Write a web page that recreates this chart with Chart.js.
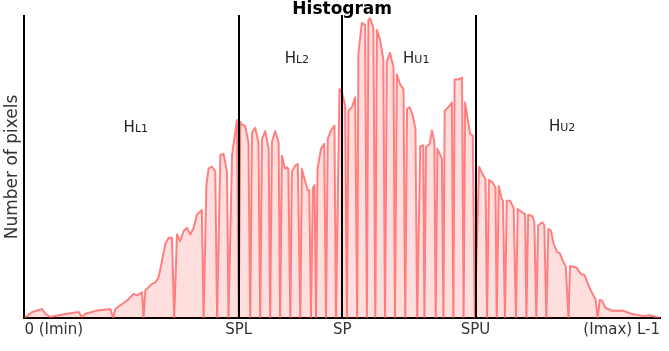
<!DOCTYPE html>
<html>
<head>
<meta charset="utf-8">
<script src="https://cdn.jsdelivr.net/npm/chart.js@4/dist/chart.umd.min.js"></script>
<style>
html,body{margin:0;padding:0;background:#fff;}
#wrap{width:669px;height:351px;}
</style>
</head>
<body>
<div id="wrap"><canvas id="c" width="669" height="351"></canvas></div>
<script>
// Grey levels (0 .. L-1) and histogram counts (relative, 0..100)
const levels = [
0,0.4,3.1,7.1,8.4,10.4,13.8,17.1,21.8,23.1,24.5,29.2,34.5,35.6,36.5,38.5,41.2,43.8,45.2,47.2,47.8,48.5,
51.2,52.5,53.8,55.2,56.5,57.9,59.2,60.1,61.2,62.5,63.9,65.2,66.6,67.9,69.2,71.2,71.9,73.0,73.9,75.3,76.6,77.3,
78.6,79.9,81.3,81.9,83.3,84.6,85.3,86.0,86.6,87.3,88.6,89.9,90.6,91.3,92.6,93.9,94.6,95.3,96.6,98.0,98.6,
99.3,100.6,102.0,102.6,103.3,104.6,105.3,105.9,106.7,107.3,108.7,109.7,110.7,111.3,112.7,113.7,114.3,115.0,
115.7,116.4,117.0,117.6,119.0,120.3,121.0,121.7,123.0,124.4,125.0,126.4,127.4,128.7,129.4,130.0,131.4,132.7,
133.5,134.0,135.4,136.7,137.4,138.0,138.7,140.0,140.8,141.4,142.7,144.0,144.7,145.4,146.7,148.1,148.7,149.4,
150.7,152.1,152.8,153.5,154.6,155.8,156.9,157.6,158.8,160.0,160.5,161.1,162.6,163.5,164.5,165.0,165.7,167.5,
168.1,168.6,170.6,171.5,172.1,172.6,174.2,175.6,176.2,176.8,178.8,179.9,180.7,182.4,183.7,185.0,185.6,186.4,
187.8,189.0,189.5,190.3,191.5,192.0,192.8,193.5,194.9,196.3,197.2,197.9,199.6,200.9,201.4,202.1,203.9,204.6,
205.4,206.1,207.8,208.6,209.4,210.2,211.3,212.3,213.7,214.9,216.0,217.2,218.3,218.9,220.2,221.5,223.4,224.7,
226.0,227.6,229.1,230.0,230.8,231.8,233.1,235.9,239.9,244.0,248.2,251.0,253.5,255
];
const pixelCounts = [
0,0.3,2.0,3.0,1.4,0.3,0.9,1.4,2.0,0.3,1.4,2.5,3.0,0,3.0,4.2,5.8,8.0,7.5,8.5,0,9.1,
11.3,11.8,13.4,18.9,24.5,26.6,26.6,0,27.7,25.5,28.8,29.9,27.7,29.9,34.2,35.8,0,44.0,49.5,50.1,48.4,0,
53.9,54.4,48.4,0,53.9,61.6,65.6,0,65.0,64.1,63.5,58.2,0,61.4,63.0,58.2,0,59.2,61.9,55.9,0,
58.2,61.9,58.2,0,53.7,49.4,49.9,49.4,0,48.4,50.5,51.0,0,49.4,45.1,42.3,42.3,0,
43.0,44.0,0,49.5,56.1,57.7,0,59.4,62.1,63.7,0,75.8,74.7,70.3,0,68.6,69.8,73.1,
0,87.8,97.7,97.1,0,98.7,99.3,96.0,0,95.4,92.1,85.6,0,85.0,87.8,82.9,0,80.7,
77.4,75.8,0,69.2,69.8,67.0,62.7,0,56.8,57.2,0,56.6,57.7,62.1,58.3,0,56.1,52.8,
0,68.6,70.3,71.4,0,79.0,79.0,79.6,0,71.4,61.0,60.4,0,50.1,47.9,45.9,0,45.8,
44.9,43.3,0,43.7,39.4,38.8,0,38.8,38.8,36.4,0,36.1,35.1,34.3,0,34.2,33.7,31.7,
0,30.6,31.7,30.8,0,29.5,28.9,24.6,21.9,21.3,19.0,17.0,0,17.2,17.0,16.7,14.5,14.3,
11.5,8.5,6.3,0,6.0,5.7,3.4,2.4,2.5,1.3,0.7,0.9,0.3,0
];
// Axis ticks
const tickValues = [0, 86, 127.5, 181, 255];
const tickLabels = ['0 (Imin)', 'SPL', 'SP', 'SPU', '(Imax) L-1'];
// Threshold lines
const markerValues = [86, 127.5, 181];
// Region labels: main letter, subscript, level, count
const regionMain = ['H', 'H', 'H', 'H'];
const regionSub = ['L1', 'L2', 'U1', 'U2'];
const regionLevel = [44.7, 109.3, 157.2, 215.7];
const regionCount = [61.7, 84.3, 84.3, 62.0];

const FONT = "'DejaVu Sans', sans-serif";

const markerPlugin = {
  id: 'markers',
  afterDatasetsDraw(chart) {
    const ctx = chart.ctx, xs = chart.scales.x, ys = chart.scales.y, a = chart.chartArea;
    ctx.save();
    ctx.strokeStyle = '#000';
    ctx.lineWidth = 2;
    markerValues.forEach(v => {
      const x = Math.round(xs.getPixelForValue(v));
      ctx.beginPath();
      ctx.moveTo(x, a.top - 1);
      ctx.lineTo(x, a.bottom);
      ctx.stroke();
    });
    ctx.fillStyle = '#222';
    ctx.textBaseline = 'alphabetic';
    regionMain.forEach((m, i) => {
      const cx = xs.getPixelForValue(regionLevel[i]);
      const by = ys.getPixelForValue(regionCount[i]);
      ctx.font = '15px ' + FONT;
      const w1 = ctx.measureText(m).width;
      ctx.font = '11px ' + FONT;
      const w2 = ctx.measureText(regionSub[i]).width;
      const x0 = cx - (w1 + w2) / 2;
      ctx.font = '15px ' + FONT;
      ctx.textAlign = 'left';
      ctx.fillText(m, x0, by);
      ctx.font = '11px ' + FONT;
      ctx.fillText(regionSub[i], x0 + w1, by);
    });
    ctx.restore();
  }
};

new Chart(document.getElementById('c'), {
  type: 'line',
  data: {
    datasets: [{
      data: levels.map((l, i) => ({x: l, y: pixelCounts[i]})),
      borderColor: 'rgba(255,80,80,0.7)',
      backgroundColor: 'rgba(255,0,0,0.13)',
      borderWidth: 2,
      borderJoinStyle: 'round',
      fill: 'origin',
      pointRadius: 0,
      tension: 0
    }]
  },
  options: {
    responsive: false,
    animation: false,
    layout: {padding: {left: 0, right: 9, top: 0, bottom: 9}},
    plugins: {
      legend: {display: false},
      tooltip: {enabled: false},
      title: {
        display: true,
        text: 'Histogram',
        fullSize: false,
        color: '#000',
        font: {family: FONT, size: 17, weight: 'bold', lineHeight: 1},
        padding: {top: 1, bottom: -2}
      }
    },
    scales: {
      x: {
        type: 'linear',
        min: 0, max: 255,
        grid: {display: false, drawTicks: false},
        border: {display: true, color: '#000', width: 2},
        afterBuildTicks: (s) => { s.ticks = tickValues.map(v => ({value: v})); },
        ticks: {
          autoSkip: false, maxRotation: 0, align: 'inner', padding: 3,
          color: '#333',
          font: {family: FONT, size: 15},
          callback: (v, i) => tickLabels[i]
        }
      },
      y: {
        min: 0, max: 100,
        grid: {display: false, drawTicks: false},
        border: {display: true, color: '#000', width: 2},
        ticks: {display: false},
        title: {
          display: true, text: 'Number of pixels', color: '#333',
          font: {family: FONT, size: 17, lineHeight: 1.2},
          padding: {top: 2, bottom: 2}
        }
      }
    }
  },
  plugins: [markerPlugin]
});
</script>
</body>
</html>
